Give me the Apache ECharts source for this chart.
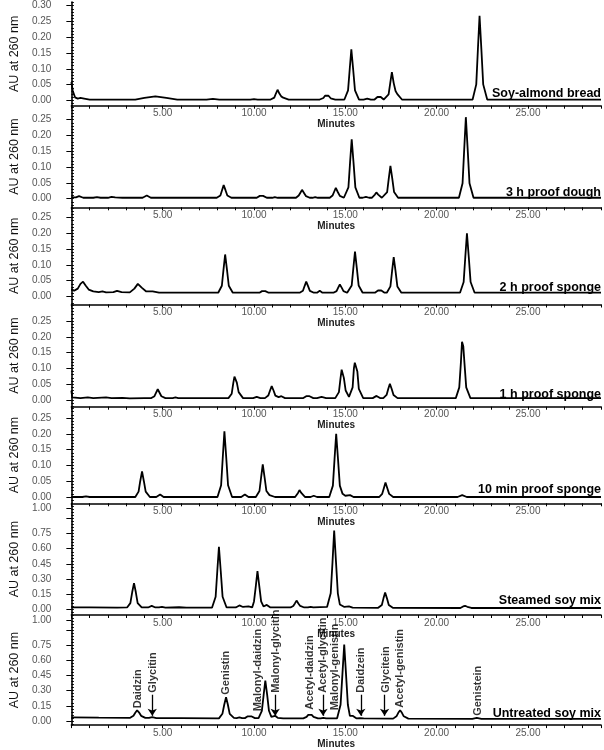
<!DOCTYPE html>
<html><head><meta charset="utf-8">
<script src="https://cdn.jsdelivr.net/npm/echarts@6/dist/echarts.min.js"></script>
<style>html,body{margin:0;padding:0;background:#fff}#c{width:604px;height:750px}</style>
</head><body><div id="c"></div>
<script>
// ---------------- DATA ----------------
const panelNames = ['Soy-almond bread','3 h proof dough','2 h proof sponge','1 h proof sponge','10 min proof sponge','Steamed soy mix','Untreated soy mix'];
const xTickLabels = [5,10,15,20,25];
const yLabelsTop = [0,0.05,0.10,0.15,0.20,0.25,0.30];
const yLabelsMid = [0,0.05,0.10,0.15,0.20,0.25];
const yLabelsBig = [0,0.15,0.30,0.45,0.60,0.75,1.00];
const yMajorBig = [0,0.15,0.30,0.45,0.60,0.75,0.90,1.00];

const soyAlmondBread = [[0,0.058],[0.08,0.03],[0.2,0.01],[0.35,0.006],[0.5,0.008],[0.7,0.006],[1.0,0.003],[3.5,0.003],[4.0,0.008],[4.6,0.013],[5.2,0.008],[5.8,0.003],[7.4,0.003],[7.75,0.005],[8.1,0.003],[9.8,0.003],[10.0,0.004],[10.2,0.003],[10.91,0.003],[11.11,0.009],[11.2,0.022],[11.29,0.034],[11.39,0.022],[11.49,0.013],[11.6,0.009],[11.9,0.003],[13.6,0.003],[13.8,0.008],[13.89,0.015],[13.98,0.021],[14.08,0.015],[14.2,0.007],[14.45,0.003],[14.95,0.003],[15.15,0.032],[15.24,0.098],[15.33,0.162],[15.43,0.098],[15.53,0.032],[15.75,0.003],[16.0,0.003],[16.2,0.006],[16.4,0.003],[16.6,0.003],[16.76,0.011],[16.84,0.016],[16.94,0.011],[17.1,0.003],[17.17,0.003],[17.37,0.019],[17.46,0.055],[17.55,0.09],[17.65,0.055],[17.75,0.03],[17.85,0.02],[18.1,0.003],[21.97,0.003],[22.17,0.051],[22.26,0.162],[22.35,0.268],[22.45,0.162],[22.55,0.051],[22.77,0.003],[29,0.003]];

const proofDough3h = [[0,0.004],[0.25,0.004],[0.42,0.008],[0.65,0.003],[1.2,0.003],[1.4,0.005],[1.6,0.003],[2.0,0.003],[2.2,0.006],[2.4,0.004],[2.8,0.003],[3.9,0.003],[4.13,0.01],[4.35,0.003],[7.96,0.003],[8.16,0.01],[8.25,0.027],[8.34,0.043],[8.44,0.027],[8.54,0.01],[8.76,0.003],[10.15,0.003],[10.32,0.009],[10.4,0.012],[10.5,0.009],[10.7,0.003],[11.0,0.003],[11.14,0.005],[11.3,0.003],[12.3,0.003],[12.45,0.01],[12.54,0.019],[12.63,0.028],[12.73,0.019],[12.85,0.008],[13.05,0.003],[13.2,0.003],[13.35,0.005],[13.5,0.003],[14.15,0.003],[14.3,0.01],[14.39,0.022],[14.48,0.034],[14.58,0.022],[14.7,0.009],[14.92,0.003],[14.97,0.003],[15.17,0.036],[15.26,0.114],[15.35,0.188],[15.45,0.114],[15.55,0.036],[15.77,0.003],[15.95,0.003],[16.13,0.006],[16.3,0.003],[16.45,0.003],[16.62,0.013],[16.7,0.02],[16.8,0.013],[17.0,0.003],[17.09,0.003],[17.29,0.021],[17.38,0.064],[17.47,0.104],[17.57,0.064],[17.67,0.021],[17.89,0.003],[21.22,0.003],[21.42,0.049],[21.51,0.156],[21.6,0.258],[21.7,0.156],[21.8,0.049],[22.02,0.003],[29,0.003]];

const proofSponge2h = [[0,0.024],[0.15,0.018],[0.35,0.025],[0.5,0.04],[0.64,0.047],[0.78,0.035],[0.95,0.022],[1.2,0.016],[1.5,0.014],[1.7,0.016],[1.9,0.013],[2.3,0.014],[2.5,0.018],[2.75,0.014],[3.2,0.013],[3.45,0.025],[3.64,0.04],[3.85,0.028],[4.1,0.016],[4.45,0.016],[4.8,0.012],[8.04,0.012],[8.24,0.034],[8.33,0.085],[8.42,0.133],[8.52,0.085],[8.62,0.034],[8.84,0.012],[10.3,0.012],[10.44,0.017],[10.52,0.021],[10.62,0.017],[10.8,0.012],[12.5,0.012],[12.68,0.018],[12.77,0.033],[12.86,0.047],[12.96,0.033],[13.06,0.018],[13.28,0.012],[13.45,0.012],[13.6,0.018],[13.75,0.012],[14.35,0.012],[14.52,0.017],[14.61,0.028],[14.7,0.038],[14.8,0.028],[14.9,0.017],[15.1,0.012],[15.15,0.012],[15.35,0.035],[15.44,0.09],[15.53,0.142],[15.63,0.09],[15.73,0.035],[15.95,0.012],[16.62,0.012],[16.79,0.019],[16.87,0.024],[16.97,0.019],[17.15,0.012],[17.27,0.012],[17.47,0.032],[17.56,0.08],[17.65,0.125],[17.75,0.08],[17.85,0.032],[18.07,0.012],[21.28,0.012],[21.48,0.046],[21.57,0.125],[21.66,0.2],[21.76,0.125],[21.86,0.046],[22.08,0.012],[29,0.012]];

const proofSponge1h = [[0,0.03],[0.05,0.008],[0.5,0.006],[0.9,0.008],[1.2,0.006],[1.9,0.008],[2.2,0.006],[2.8,0.007],[3.2,0.005],[4.0,0.006],[4.38,0.006],[4.55,0.012],[4.64,0.023],[4.73,0.034],[4.83,0.023],[4.93,0.012],[5.15,0.006],[5.55,0.006],[5.7,0.008],[5.85,0.006],[8.6,0.006],[8.78,0.02],[8.87,0.055],[8.93,0.074],[9.0,0.07],[9.06,0.055],[9.16,0.025],[9.4,0.006],[9.95,0.006],[10.15,0.01],[10.35,0.006],[10.6,0.006],[10.78,0.014],[10.88,0.03],[10.97,0.044],[11.07,0.03],[11.17,0.014],[11.35,0.009],[11.5,0.012],[11.7,0.006],[12.7,0.006],[12.86,0.012],[12.94,0.017],[13.04,0.012],[13.25,0.006],[13.45,0.006],[13.7,0.01],[13.95,0.006],[14.45,0.006],[14.65,0.025],[14.74,0.07],[14.8,0.096],[14.86,0.09],[14.92,0.07],[15.02,0.03],[15.2,0.01],[15.3,0.01],[15.4,0.04],[15.47,0.1],[15.52,0.118],[15.6,0.115],[15.66,0.09],[15.74,0.035],[15.98,0.006],[16.5,0.006],[16.71,0.013],[16.9,0.006],[17.08,0.006],[17.26,0.016],[17.35,0.035],[17.44,0.051],[17.54,0.035],[17.64,0.016],[17.86,0.006],[21.05,0.006],[21.24,0.04],[21.33,0.12],[21.39,0.184],[21.46,0.17],[21.52,0.12],[21.62,0.04],[21.85,0.006],[29,0.006]];

const proofSponge10min = [[0,0.0],[0.6,0.0],[0.8,0.002],[1.0,0.0],[3.5,0.0],[3.68,0.017],[3.77,0.05],[3.87,0.081],[3.97,0.05],[4.07,0.017],[4.3,0.0],[4.65,0.0],[4.86,0.008],[5.05,0.0],[5.3,0.0],[5.4,0.003],[5.5,0.0],[8.0,0.0],[8.2,0.037],[8.29,0.125],[8.38,0.208],[8.48,0.125],[8.58,0.037],[8.8,0.0],[9.3,0.0],[9.5,0.008],[9.7,0.0],[10.1,0.0],[10.3,0.019],[10.39,0.062],[10.48,0.103],[10.58,0.062],[10.68,0.019],[10.85,0.006],[10.95,0.01],[11.15,0.0],[12.25,0.0],[12.41,0.013],[12.49,0.022],[12.59,0.013],[12.8,0.0],[13.1,0.0],[13.27,0.004],[13.45,0.0],[14.12,0.0],[14.32,0.036],[14.41,0.12],[14.5,0.2],[14.6,0.12],[14.7,0.036],[14.85,0.01],[15.0,0.004],[15.26,0.006],[15.45,0.0],[16.85,0.0],[17.02,0.01],[17.11,0.028],[17.2,0.046],[17.3,0.028],[17.4,0.01],[17.62,0.0],[21.15,0.0],[21.4,0.006],[21.65,0.0],[29,0.0]];

const steamedSoyMix = [[0,0.02],[1.0,0.02],[2.5,0.018],[3.05,0.02],[3.23,0.063],[3.33,0.17],[3.43,0.26],[3.53,0.17],[3.63,0.063],[3.85,0.02],[4.2,0.02],[4.4,0.035],[4.6,0.02],[4.8,0.02],[4.96,0.025],[5.15,0.018],[5.9,0.022],[6.3,0.018],[7.7,0.018],[7.9,0.126],[7.99,0.378],[8.08,0.62],[8.18,0.378],[8.28,0.126],[8.5,0.02],[9.0,0.02],[9.2,0.04],[9.4,0.025],[9.7,0.03],[9.9,0.02],[10.0,0.08],[10.1,0.23],[10.19,0.38],[10.29,0.23],[10.39,0.08],[10.52,0.03],[10.7,0.045],[10.9,0.02],[12.0,0.02],[12.15,0.035],[12.24,0.06],[12.33,0.088],[12.43,0.06],[12.53,0.035],[12.75,0.02],[12.95,0.02],[13.1,0.026],[13.25,0.02],[14.0,0.025],[14.2,0.16],[14.3,0.47],[14.39,0.78],[14.49,0.47],[14.59,0.16],[14.7,0.05],[14.8,0.048],[14.95,0.025],[15.2,0.03],[15.4,0.018],[16.8,0.017],[17.0,0.045],[17.09,0.11],[17.18,0.167],[17.28,0.11],[17.38,0.045],[17.6,0.017],[21.3,0.015],[21.45,0.03],[21.56,0.035],[21.68,0.027],[21.9,0.015],[29,0.015]];

const untreatedSoyMix = [[0,0.035],[1.5,0.032],[3.22,0.03],[3.4,0.05],[3.5,0.08],[3.6,0.105],[3.7,0.085],[3.82,0.05],[4.05,0.03],[4.25,0.03],[4.43,0.038],[4.65,0.028],[6.0,0.027],[8.08,0.025],[8.27,0.07],[8.37,0.16],[8.47,0.235],[8.57,0.16],[8.67,0.07],[8.9,0.03],[9.05,0.028],[9.2,0.035],[9.35,0.027],[9.5,0.027],[9.66,0.045],[9.75,0.055],[9.85,0.045],[10.05,0.027],[10.25,0.027],[10.43,0.1],[10.53,0.26],[10.62,0.40],[10.72,0.26],[10.82,0.1],[10.95,0.04],[11.05,0.045],[11.15,0.05],[11.3,0.03],[11.6,0.025],[12.7,0.025],[12.88,0.04],[12.97,0.06],[13.06,0.075],[13.16,0.06],[13.26,0.04],[13.5,0.025],[13.65,0.025],[13.8,0.03],[13.95,0.024],[14.55,0.025],[14.74,0.16],[14.84,0.46],[14.94,0.76],[15.04,0.46],[15.14,0.16],[15.25,0.05],[15.4,0.05],[15.6,0.025],[15.8,0.028],[16.0,0.024],[17.62,0.022],[17.8,0.045],[17.9,0.08],[18.0,0.105],[18.1,0.08],[18.2,0.045],[18.45,0.022],[21.95,0.02],[22.2,0.03],[22.45,0.02],[29,0.02]];

const peakNames = ['Daidzin','Glycitin','Genistin','Malonyl-daidzin','Malonyl-glycitin','Acetyl-daidzin','Acetyl-glycitin','Malonyl-genistin','Daidzein','Glycitein','Acetyl-genistin','Genistein'];
const peakLabelTime = [3.67,4.47,8.47,10.2,11.18,13.06,13.8,14.45,15.87,17.2,18.02,22.24];
const peakLabelBase = [0.125,0.28,0.26,0.095,0.28,0.11,0.28,0.105,0.28,0.28,0.13,0.05];
const arrowTime = [4.43,11.16,13.78,15.85,17.15];
const arrowTop = [0.26,0.26,0.26,0.26,0.26];
const arrowTip = [0.05,0.05,0.05,0.05,0.05];

const traces = [soyAlmondBread,proofDough3h,proofSponge2h,proofSponge1h,proofSponge10min,steamedSoyMix,untreatedSoyMix];

// ---------------- LAYOUT ----------------
const FONT = "'Liberation Sans', Arial, sans-serif";
const axisY = [105.7,207.3,304.5,406.7,503.3,615,726];
const gridLeft = 64, gridRight = 3, xMax = 29;
const yMin = [-0.0165,-0.0272,-0.0253,-0.0212,-0.0199,-0.0543,-0.0424];
const yMax = [0.3117,0.2943,0.2823,0.3022,0.2858,1.0484,1.0533];
const titleTop = [87,186,281,388,483,594,707];

function rangeVals(step, lo, hi){const a=[];for(let k=Math.ceil(lo/step-1e-9);k*step<=hi+1e-9;k++)a.push(+(k*step).toFixed(4));return a;}

const grids=[],xAxes=[],yAxes=[],series=[],titles=[];
for(let i=0;i<7;i++){
  const top = i===0?2:axisY[i-1];
  grids.push({left:gridLeft,right:gridRight,top:top,height:axisY[i]-top});
  const big = i>=5;
  const labels = i===0?yLabelsTop:(big?yLabelsBig:yLabelsMid);
  const majors = big?yMajorBig:labels;
  const minors = rangeVals(big?0.03:0.01, yMin[i], yMax[i]);
  xAxes.push({type:'value',gridIndex:i,min:0,max:xMax,interval:1,
    axisLine:{onZero:false,lineStyle:{color:'#000',width:1.6}},
    axisTick:{length:3,lineStyle:{color:'#000',width:1}},
    splitLine:{show:false},
    axisLabel:{fontFamily:FONT,fontSize:10,color:'#555',margin:3,
      formatter:v=>xTickLabels.includes(v)?v.toFixed(2):''},
    name:'Minutes',nameLocation:'middle',nameGap:12,
    nameTextStyle:{fontFamily:FONT,fontWeight:'bold',fontSize:10,color:'#222'}});
  yAxes.push({type:'value',gridIndex:i,min:yMin[i],max:yMax[i],
    axisLine:{onZero:false,lineStyle:{color:'#000',width:1.6}},
    axisTick:{customValues:majors,length:5,lineStyle:{color:'#000',width:1}},
    splitLine:{show:false},
    axisLabel:{customValues:labels,fontFamily:FONT,fontSize:10,color:'#555',margin:20,formatter:v=>v.toFixed(2)},
    name:'AU at 260 nm',nameLocation:'middle',nameGap:47,
    nameTextStyle:{fontFamily:FONT,fontSize:12.5,color:'#111'}});
  yAxes.push({type:'value',gridIndex:i,min:yMin[i],max:yMax[i],
    axisLine:{show:false},axisLabel:{show:false},splitLine:{show:false},
    axisTick:{customValues:minors,length:2.5,lineStyle:{color:'#000',width:1}}});
  series.push({type:'line',xAxisIndex:i,yAxisIndex:2*i,data:traces[i],showSymbol:false,
    lineStyle:{color:'#000',width:1.8},silent:true});
  titles.push({text:panelNames[i],right:3,top:titleTop[i],padding:0,
    textStyle:{fontFamily:FONT,fontWeight:'bold',fontSize:12.5,color:'#000'}});
}

// annotations on bottom panel
series.push({type:'scatter',xAxisIndex:6,yAxisIndex:12,symbolSize:1,
  itemStyle:{color:'rgba(0,0,0,0)'},silent:true,
  data:peakNames.map((n,k)=>({name:n,value:[peakLabelTime[k],peakLabelBase[k]]})),
  label:{show:true,formatter:'{b}',position:'inside',rotate:90,align:'left',verticalAlign:'middle',
    fontFamily:FONT,fontWeight:'bold',fontSize:11,color:'#000'},
  markLine:{silent:true,symbol:['none','arrow'],symbolSize:7,label:{show:false},
    lineStyle:{color:'#000',width:1.3,type:'solid'},
    data:arrowTime.map((t,k)=>[{coord:[t,arrowTop[k]]},{coord:[t,arrowTip[k]]}])}
});

const chart = echarts.init(document.getElementById('c'),null,{renderer:'canvas'});
chart.setOption({animation:false,backgroundColor:'#fff',title:titles,grid:grids,xAxis:xAxes,yAxis:yAxes,series:series});
</script></body></html>
